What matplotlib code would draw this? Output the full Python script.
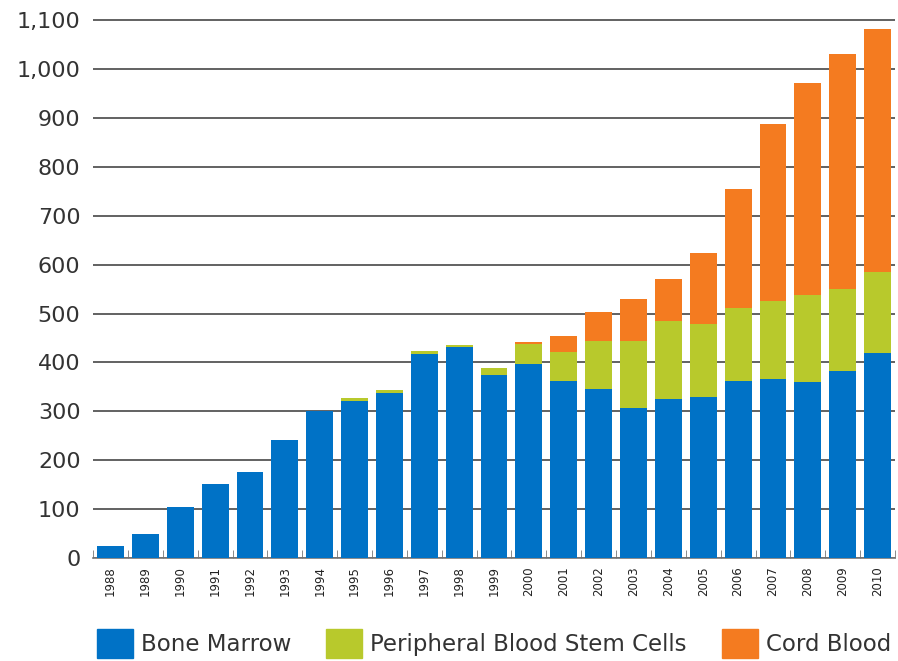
import numpy as np
import matplotlib
matplotlib.use("Agg")
from matplotlib import pyplot as plt
from matplotlib.patches import Patch
from matplotlib.ticker import FuncFormatter

years = list(range(1988, 2011))
# cumulative tops, turned into segment sizes below
bone_marrow = [25, 49, 105, 152, 176, 242, 300, 322, 338, 418, 432, 375, 396,
               361, 346, 307, 326, 330, 363, 367, 359, 383, 420]
pbsc_top = [25, 49, 105, 152, 176, 242, 300, 328, 344, 424, 436, 389, 438,
            422, 443, 443, 484, 478, 512, 525, 539, 551, 586]
cord_top = [25, 49, 105, 152, 176, 242, 300, 328, 344, 424, 436, 389, 442,
            455, 504, 529, 570, 625, 754, 887, 971, 1031, 1082]

bm = np.array(bone_marrow)
pb = np.array(pbsc_top) - bm
cb = np.array(cord_top) - np.array(pbsc_top)

blue = "#0072c6"
green = "#b8c92c"
orange = "#f47b20"

fig = plt.figure(figsize=(8.98, 6.61), dpi=100)
ax = fig.add_axes([0.1036, 0.156, 0.8931, 0.8205])

x = np.arange(len(years))
w = 0.77
ax.bar(x, bm, w, color=blue, zorder=3)
ax.bar(x, pb, w, bottom=bm, color=green, zorder=3)
ax.bar(x, cb, w, bottom=bm + pb, color=orange, zorder=3)

ax.set_ylim(0, 1110)
ax.set_xlim(-0.43, len(years) - 1 + 0.49)
ax.set_yticks(range(0, 1101, 100))
ax.yaxis.set_major_formatter(FuncFormatter(lambda v, p: "{:,}".format(int(v))))
ax.grid(axis="y", color="#555555", linewidth=1.3, zorder=0)

ax.set_xticks(x)
ax.set_xticklabels([str(y) for y in years], rotation=90, fontsize=8.5, color="#222222")
ax.set_xticks(np.arange(-0.5, len(years), 1.0), minor=True)
ax.tick_params(axis="x", which="major", length=0, pad=6)
ax.tick_params(axis="x", which="minor", direction="in", length=6, color="#777777")
ax.tick_params(axis="y", length=0, labelsize=16, colors="#333333", pad=9)

for s in ["left", "right", "top"]:
    ax.spines[s].set_visible(False)
ax.spines["bottom"].set_color("#777777")
ax.spines["bottom"].set_linewidth(1.2)

handles = [Patch(color=blue, label="Bone Marrow"),
           Patch(color=green, label="Peripheral Blood Stem Cells"),
           Patch(color=orange, label="Cord Blood")]
fig.legend(handles=handles, loc="upper left", bbox_to_anchor=(97 / 898, 1 - 629 / 661),
           ncol=3, frameon=False, fontsize=16.5, handlelength=1.55,
           handleheight=1.6, columnspacing=1.55, handletextpad=0.35,
           labelcolor="#333333", borderaxespad=0, borderpad=0)

fig.savefig("out.png", dpi=100)
